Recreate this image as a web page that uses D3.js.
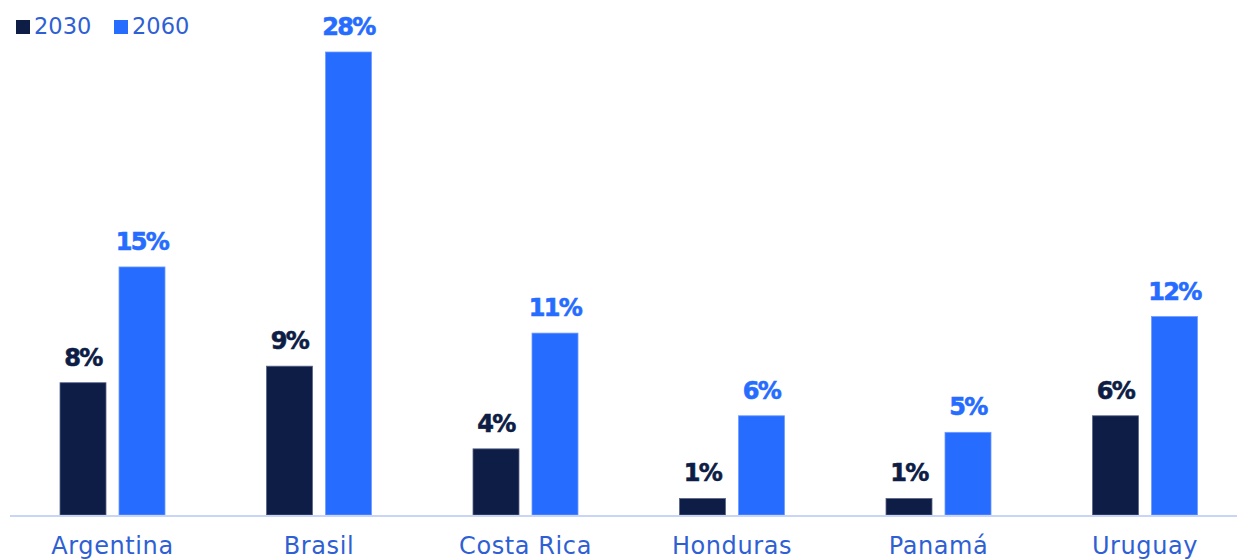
<!DOCTYPE html>
<html>
<head>
<meta charset="utf-8">
<script src="https://cdn.jsdelivr.net/npm/d3@7"></script>
<style>
  html, body { margin: 0; padding: 0; background: #ffffff; }
  svg { display: block; }
</style>
</head>
<body>
<svg id="chart" width="1237" height="559"></svg>
<script>
// Share of population (%) by country, two horizon years
const countries = ["Argentina", "Brasil", "Costa Rica", "Honduras", "Panamá", "Uruguay"];
const years = ["2030", "2060"];
const values2030 = [8, 9, 4, 1, 1, 6];
const values2060 = [15, 28, 11, 6, 5, 12];

const colors = { "2030": "#0d1d45", "2060": "#266cff" };
const textBlue = "#2f5fd4";

const svg = d3.select("#chart");
const baseY = 515;

const x = d3.scaleBand().domain(countries).range([9.25, 1248.25]).padding(0);
const xInner = d3.scaleOrdinal().domain(years).range([-52.5, 6.5]);
const barW = 46;
const y = d3.scaleLinear().domain([0, 28]).range([baseY, 52]);

const rows = countries.map((c, i) => ({ country: c, "2030": values2030[i], "2060": values2060[i] }));

const groups = svg.selectAll("g.country")
  .data(rows)
  .join("g")
  .attr("class", "country")
  .attr("transform", d => `translate(${x(d.country) + x.bandwidth() / 2},0)`);

const bars = groups.selectAll("g.bar")
  .data(d => years.map(yr => ({ year: yr, value: d[yr] })))
  .join("g")
  .attr("class", "bar");

bars.append("rect")
  .attr("x", d => xInner(d.year))
  .attr("y", d => y(d.value))
  .attr("width", barW)
  .attr("height", d => baseY - y(d.value))
  .attr("fill", d => colors[d.year])
  .attr("stroke", d => d.year === "2030" ? "#5a6588" : "#6f9bff")
  .attr("stroke-width", 0.8);

bars.append("text")
  .attr("x", d => xInner(d.year) + barW / 2)
  .attr("y", d => y(d.value) - 17)
  .attr("text-anchor", "middle")
  .attr("font-family", "DejaVu Sans")
  .attr("font-weight", "bold")
  .attr("font-size", 24)
  .attr("letter-spacing", -1.6)
  .attr("stroke", d => colors[d.year])
  .attr("stroke-width", 0.6)
  .attr("fill", d => colors[d.year])
  .text(d => d.value + "%");

// Baseline
svg.append("line")
  .attr("x1", 10).attr("x2", 1237)
  .attr("y1", baseY + 1).attr("y2", baseY + 1)
  .attr("stroke", "#c9d5f6")
  .attr("stroke-width", 2);

// Country labels
const xAxis = d3.axisBottom(x).tickSize(0).tickPadding(0);
const axisG = svg.append("g")
  .attr("transform", `translate(0,${baseY})`)
  .call(xAxis);
axisG.select(".domain").remove();
axisG.selectAll(".tick text")
  .attr("dy", 0)
  .attr("y", 38.5)
  .attr("font-family", "DejaVu Sans")
  .attr("font-size", 24)
  .attr("font-weight", "normal")
  .attr("letter-spacing", 0.6)
  .attr("fill", textBlue);

// Legend
const legendPos = [16, 114];
const legend = svg.selectAll("g.legend")
  .data(years)
  .join("g")
  .attr("class", "legend")
  .attr("transform", (d, i) => `translate(${legendPos[i]},20)`);
legend.append("rect")
  .attr("width", 14).attr("height", 14)
  .attr("fill", d => colors[d]);
legend.append("text")
  .attr("x", 18).attr("y", 14)
  .attr("font-family", "DejaVu Sans")
  .attr("font-size", 22.5)
  .attr("font-weight", "normal")
  .attr("fill", textBlue)
  .text(d => d);
</script>
</body>
</html>
